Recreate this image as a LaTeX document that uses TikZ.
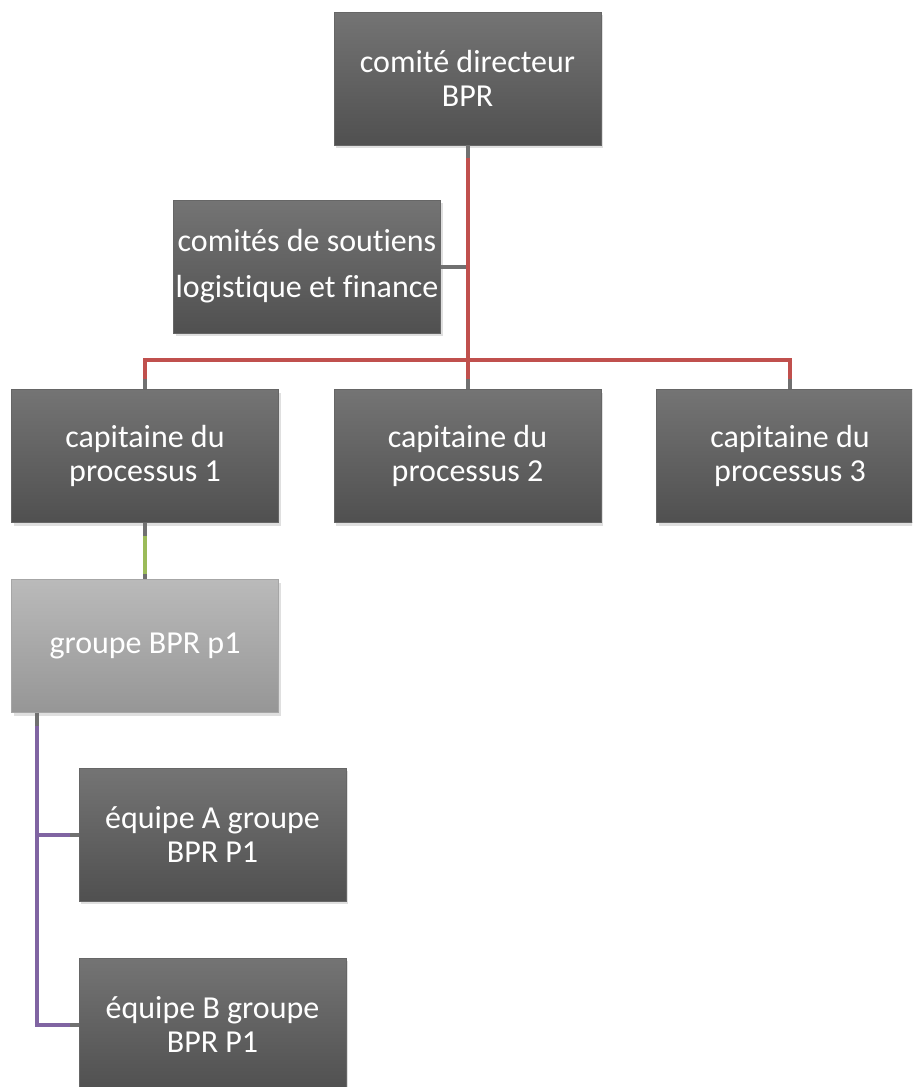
\documentclass[tikz,border=0pt]{standalone}
\usepackage{fontspec}
\setmainfont{Carlito}[Ligatures=NoCommon]
\usepackage{tikz}
\usetikzlibrary{positioning,shadows}
\definecolor{boxtop}{RGB}{116,116,116}
\definecolor{boxbot}{RGB}{80,80,80}
\definecolor{grptop}{RGB}{186,186,186}
\definecolor{grpbot}{RGB}{150,150,150}
\definecolor{linkgray}{RGB}{112,112,112}
\definecolor{linkred}{RGB}{192,80,77}
\definecolor{linkgreen}{RGB}{155,187,89}
\definecolor{linkpurple}{RGB}{128,100,162}

\begin{document}
\begin{tikzpicture}[x=0.5pt, y=-0.5pt,
orgbox/.style={draw=black!60, line width=0.4pt, top color=boxtop, bottom color=boxbot,
minimum width=133.5pt, minimum height=66.5pt, inner xsep=0.5pt, align=center, text=white,
font=\fontsize{16}{17}\selectfont,
drop shadow={opacity=0.25, shadow xshift=1pt, shadow yshift=-1.5pt}},
grpbox/.style={orgbox, draw=black!35, top color=grptop, bottom color=grpbot},
link/.style={draw=linkgray, line width=2pt},
redlink/.style={link, draw=linkred},
greenlink/.style={link, draw=linkgreen},
purplelink/.style={link, draw=linkpurple}
]

\fill[white] (0,0) rectangle (912,1087);
\clip (0,0) rectangle (912,1087);

% steering level
\node[orgbox] (dir)  at (467.5,78.5) {comité directeur\\BPR};
\node[orgbox] (sout) at (307,266.5)  {comités de soutiens\\[6pt]logistique et finance};

% process captains
\node[orgbox] (cap1) at (145,456)   {capitaine du\\processus 1};
\node[orgbox] (cap2) at (467.5,456) {capitaine du\\processus 2};
\node[orgbox] (cap3) at (790,456)   {capitaine du\\processus 3};

% group and teams of process 1
\node[grpbox] (grp) at (145,646)    {groupe BPR p1};
\node[orgbox] (eqA) at (212.5,834.5)  {équipe A groupe\\BPR P1};
\node[orgbox] (eqB) at (212.5,1024.5) {équipe B groupe\\BPR P1};

\coordinate (bus) at (467.5,360);
\coordinate (grpfoot) at ([xshift=13pt]grp.south west);

% grey stubs underneath, coloured runs on top
\draw[link] (dir.south) -- (cap2.north);
\draw[link] (cap1.north) |- (bus) -| (cap3.north);
\draw[link] (sout.east) -- (sout.east -| dir.south);
\draw[link] (cap1.south) -- (grp.north);
\draw[link] (grpfoot) |- (eqA.west);
\draw[link] (grpfoot) |- (eqB.west);

\draw[redlink, shorten <=6.5pt, shorten >=5pt] (dir.south) -- (cap2.north);
\draw[redlink, shorten <=5pt, shorten >=5pt] (cap1.north) |- (bus) -| (cap3.north);
\draw[greenlink, shorten <=6.5pt, shorten >=2.5pt] (cap1.south) -- (grp.north);
\draw[purplelink, shorten <=6.5pt, shorten >=4.5pt] (grpfoot) |- (eqA.west);
\draw[purplelink, shorten <=6.5pt, shorten >=4.5pt] (grpfoot) |- (eqB.west);

\end{tikzpicture}
\end{document}
